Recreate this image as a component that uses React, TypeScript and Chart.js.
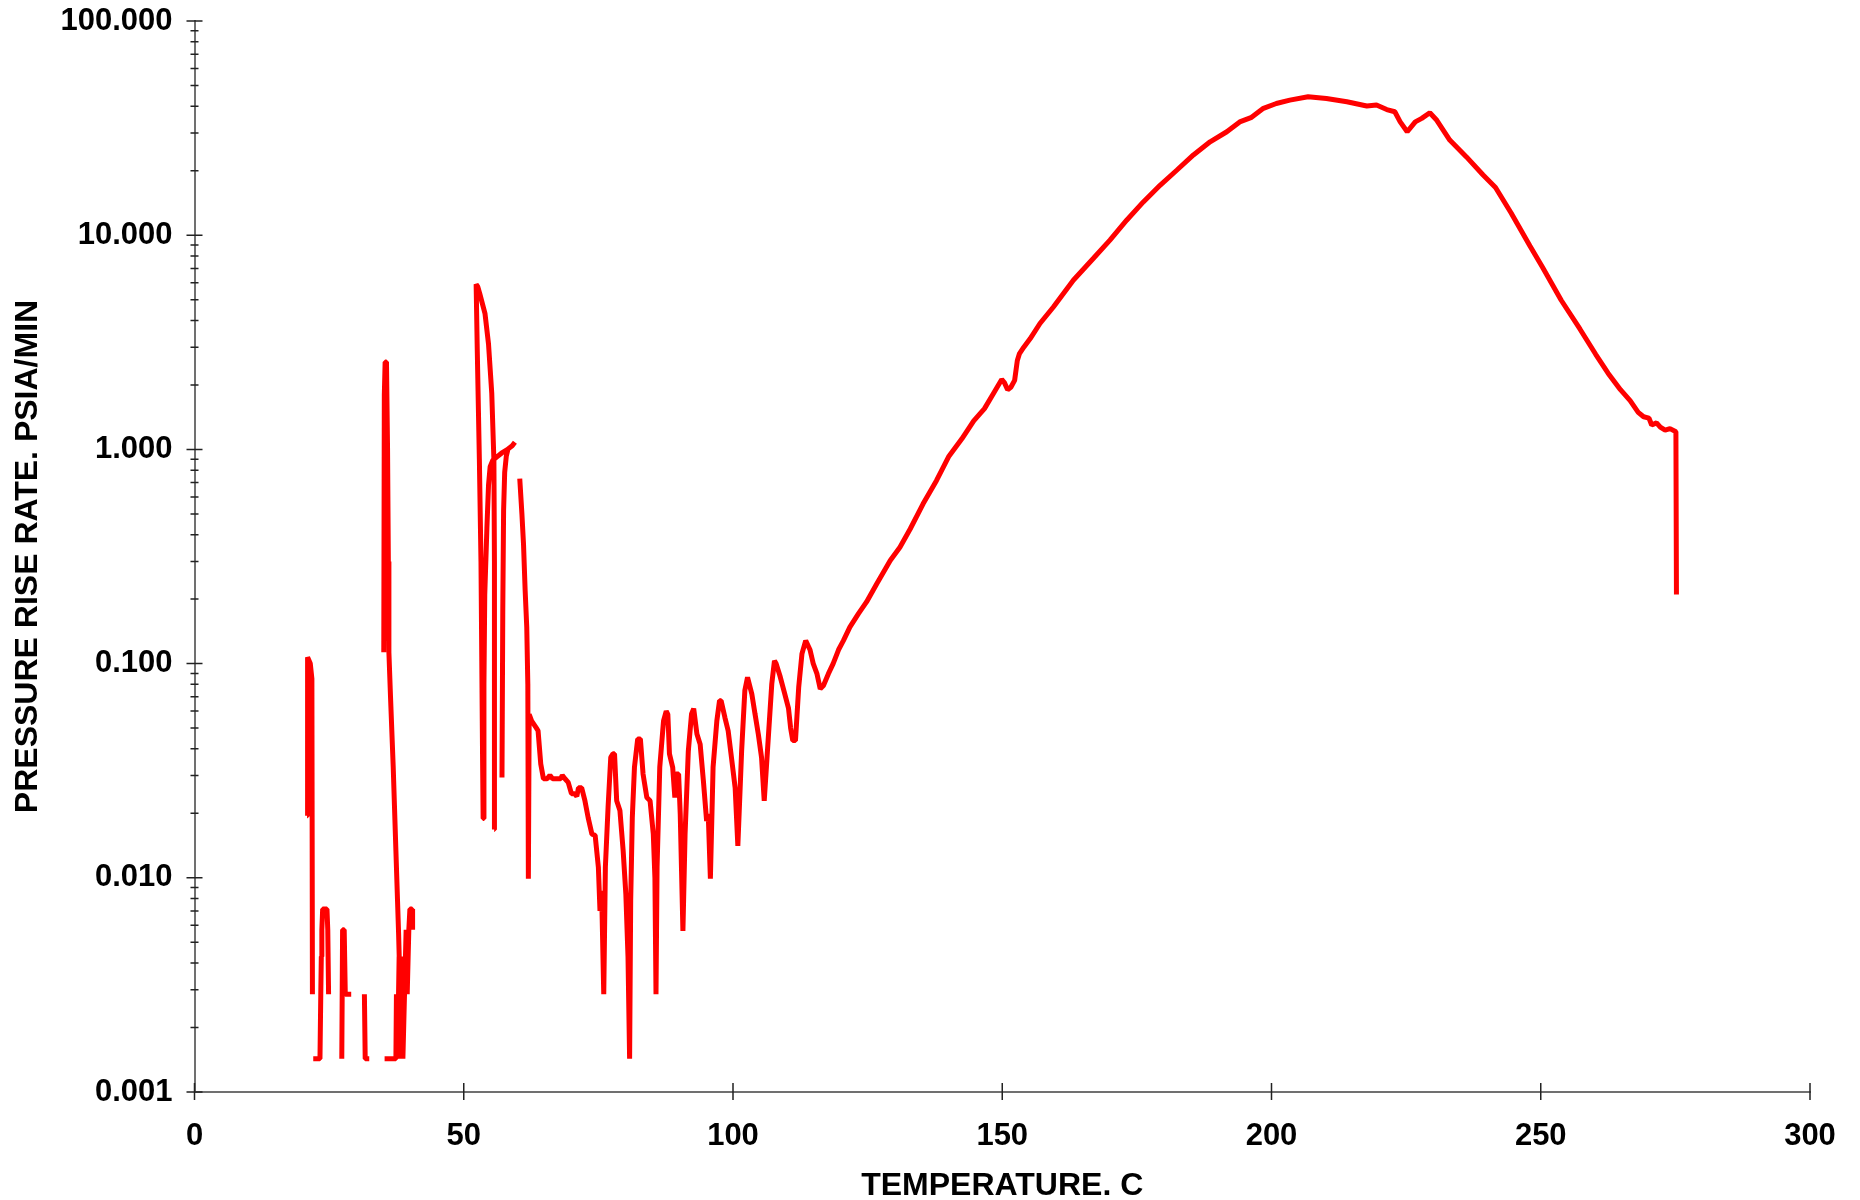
import React, { useEffect, useRef } from "react";
import { Chart, registerables } from "chart.js";

Chart.register(...registerables);

// Temperature (deg C) and pressure rise rate (psia/min); null = gap in the trace
const temperatureC: number[] = [
  20.9, 21.0, 21.5, 21.8, 21.9, 22.0,
  22.05, 23.3, 23.45, 23.55, 23.65, 23.8, 24.6, 24.75, 24.9, 25.0,
  27.35, 27.5, 27.8, 28.0, 29.1, 29.2,
  31.55, 31.7, 32.45, 32.5,
  35.15, 35.25, 35.4, 35.65, 35.85, 36.0, 36.1, 36.4, 36.9, 37.4, 37.9, 38.2, 38.3,
  35.3, 37.4, 37.5, 37.7, 38.0, 38.2, 38.5, 38.7, 39.0, 39.3, 39.5, 39.8, 40.0, 40.4, 40.5, 40.6,
  55.65, 55.7, 55.6, 55.2, 54.6, 53.95, 53.0, 52.6, 52.3, 52.5, 52.9, 53.2, 53.5, 53.6,
  53.75, 53.9, 54.3, 54.6, 54.9, 55.4, 56.1, 57.0, 58.0, 59.0, 59.5, 59.6,
  57.1, 57.25, 57.4, 57.6, 57.9, 58.2, 58.3,
  60.4, 60.8, 61.1, 61.4, 61.7, 61.9, 62.0, 62.15, 62.3, 62.6, 63.5, 63.8, 64.3, 64.8,
  65.5, 66.0, 66.5, 67.0, 68.0, 68.3, 68.8, 69.4, 70.0, 70.6, 71.0, 71.3, 71.9, 72.5,
  73.1, 73.8, 74.4, 75.0, 75.3, 75.6, 76.0, 76.3, 76.8, 77.3, 77.7, 78.0, 78.4, 79.0,
  79.6, 80.1, 80.5, 80.8, 81.0, 81.3, 81.7, 82.3, 82.8, 83.3, 84.0, 84.6, 85.2, 85.5,
  85.7, 85.9, 86.4, 87.1, 87.6, 87.9, 88.2, 88.8, 89.2, 89.4, 89.9, 90.2, 90.7, 91.1,
  91.7, 92.3, 92.7, 93.3, 93.9, 94.5, 95.1, 95.4, 95.8, 96.3, 97.0, 97.5, 97.8, 98.5,
  99.1, 99.8, 100.4, 100.9, 101.6, 102.2, 102.7, 103.5, 104.1, 104.7, 105.3, 105.8,
  106.6, 107.2, 107.7, 108.0, 108.7, 109.5, 110.3, 110.7, 111.1, 111.6, 112.2, 112.8,
  113.5, 114.3, 114.9, 115.6, 116.2, 116.8, 117.7, 118.6, 119.6, 120.5, 121.7, 123.3,
  124.8, 126.7, 129.2, 131.0, 132.9, 135.3, 137.8, 140.1, 142.5, 144.7, 146.7, 148.5,
  149.9, 150.4, 151.0, 151.6, 152.3, 152.8, 153.2, 154.0, 155.2, 157.0, 159.5, 163.2,
  166.9, 170.0, 173.1, 176.2, 179.3, 182.4, 185.5, 188.6, 191.7, 194.1, 196.3, 198.5,
  200.9, 203.4, 206.8, 210.2, 214.0, 217.7, 219.5, 221.4, 222.9, 223.9, 225.2, 226.7,
  227.9, 229.4, 230.7, 233.1, 236.2, 239.3, 241.6, 244.5, 248.0, 250.3, 253.8, 257.3,
  260.2, 262.5, 264.8, 266.6, 268.1, 269.1, 270.1, 270.6, 271.5, 272.2, 273.1, 274.0,
  275.1, 275.2,
];

const riseRate: (number | null)[] = [
  0.0195, 0.107, 0.1, 0.085, 0.00286, null,
  0.00143, 0.00143, 0.00286, 0.00429, 0.00572, 0.00715, 0.00715, 0.00572, 0.00286, null,
  0.00143, 0.00572, 0.00572, 0.00286, 0.00286, null,
  0.00286, 0.00143, 0.00143, null,
  0.113, 1.8, 2.56, 2.56, 1.0, 0.3, 0.113, 0.07, 0.033, 0.0134, 0.0055, 0.00286, null,
  0.00143, 0.00143, 0.00286, 0.00143, 0.00429, 0.00143, 0.00429, 0.00143, 0.00286, 0.00572, 0.00286, 0.00572, 0.00715, 0.00715, 0.00572, null,
  0.0168, 0.3, 0.89, 1.83, 3.1, 4.3, 5.3, 5.75, 5.9, 3.0, 0.9, 0.3, 0.035, 0.0189,
  0.08, 0.21, 0.43, 0.68, 0.83, 0.89, 0.92, 0.96, 0.995, 1.04, 1.08, null,
  0.0294, 0.18, 0.52, 0.78, 0.93, 1.0, null,
  0.73, 0.5, 0.36, 0.22, 0.148, 0.08, 0.0099, 0.058, 0.058, 0.054, 0.05, 0.0486, 0.034, 0.029,
  0.029, 0.0301, 0.029, 0.029, 0.029, 0.0301, 0.029, 0.0279, 0.0247, 0.0247, 0.024, 0.0263, 0.0263, 0.0229,
  0.0191, 0.016, 0.0158, 0.0112, 0.007, 0.0087, 0.00286, 0.0112, 0.0213, 0.0365, 0.0379, 0.0379, 0.0229, 0.0206,
  0.0134, 0.0084, 0.0043, 0.00143, 0.0078, 0.0191, 0.0328, 0.0445, 0.0445, 0.0305, 0.0237, 0.0229, 0.016, 0.01,
  0.00286, 0.0112, 0.0328, 0.054, 0.06, 0.058, 0.0379, 0.0328, 0.0237, 0.0305, 0.0305, 0.0199, 0.00565, 0.016,
  0.039, 0.0582, 0.0616, 0.0469, 0.042, 0.0284, 0.0184, 0.0199, 0.0099, 0.0328, 0.054, 0.0672, 0.067, 0.056,
  0.0486, 0.035, 0.0263, 0.0141, 0.039, 0.0748, 0.0863, 0.072, 0.058, 0.0469, 0.0365, 0.0229,
  0.0469, 0.0803, 0.103, 0.1, 0.088, 0.074, 0.062, 0.05, 0.0437, 0.0437, 0.0775, 0.111,
  0.128, 0.116, 0.1, 0.0895, 0.0762, 0.079, 0.0895, 0.1, 0.116, 0.128, 0.148, 0.171,
  0.194, 0.236, 0.303, 0.349, 0.425, 0.557, 0.716, 0.93, 1.12, 1.36, 1.55, 1.85,
  2.12, 2.05, 1.9, 1.95, 2.1, 2.6, 2.8, 3.0, 3.29, 3.87, 4.62, 6.16,
  7.78, 9.48, 11.75, 14.3, 17.1, 20.1, 23.7, 27.3, 30.4, 33.8, 35.5, 39.1,
  41.2, 42.7, 44.3, 43.5, 42.0, 40.1, 40.5, 38.6, 37.7, 33.8, 30.4, 33.8,
  35.1, 37.3, 34.4, 27.8, 23.2, 19.1, 16.7, 12.7, 8.9, 7.1, 4.97, 3.64,
  2.78, 2.27, 1.9, 1.69, 1.49, 1.42, 1.4, 1.3, 1.33, 1.27, 1.23, 1.25,
  1.21, 0.21,
];

const xTickValues = [0, 50, 100, 150, 200, 250, 300];
const yDecades = [0.001, 0.01, 0.1, 1, 10, 100];
const yTickLabels = ["0.001", "0.010", "0.100", "1.000", "10.000", "100.000"];
const xTitle = "TEMPERATURE. C";
const yTitle = "PRESSURE RISE RATE. PSIA/MIN";

const FONT = "'Liberation Sans', Arial, sans-serif";

const tickMarks = {
  id: "tickMarks",
  beforeDatasetsDraw(chart: any) {
    const { ctx, scales } = chart;
    const xs = scales.x;
    const ys = scales.y;
    const ax = xs.getPixelForValue(0);
    const ay = ys.getPixelForValue(0.001);
    ctx.save();
    ctx.strokeStyle = "#222";
    ctx.lineWidth = 1.5;
    ctx.beginPath();
    for (let d = 0; d < yDecades.length; d++) {
      const py = ys.getPixelForValue(yDecades[d]);
      ctx.moveTo(ax - 8, py);
      ctx.lineTo(ax + 8, py);
      if (d < yDecades.length - 1) {
        for (let m = 2; m <= 9; m++) {
          const pm = ys.getPixelForValue(yDecades[d] * m);
          ctx.moveTo(ax - 4, pm);
          ctx.lineTo(ax + 4, pm);
        }
      }
    }
    for (const v of xTickValues) {
      const px = xs.getPixelForValue(v);
      ctx.moveTo(px, ay - 9);
      ctx.lineTo(px, ay + 8);
    }
    ctx.stroke();
    ctx.restore();
  },
};

export default function App() {
  const ref = useRef<HTMLCanvasElement | null>(null);
  useEffect(() => {
    if (!ref.current) return;
    const points = temperatureC.map((t, i) => ({ x: t, y: riseRate[i] }));
    const chart = new Chart(ref.current, {
      type: "scatter",
      data: {
        datasets: [
          {
            data: points as any,
            showLine: true,
            spanGaps: false,
            borderColor: "#ff0000",
            backgroundColor: "#ff0000",
            borderWidth: 5,
            borderJoinStyle: "bevel",
            pointRadius: 0,
            tension: 0,
          },
        ],
      },
      options: {
        animation: false,
        responsive: false,
        devicePixelRatio: 1,
        layout: { autoPadding: false, padding: { left: 0, top: 21, right: 50, bottom: 0 } },
        plugins: { legend: { display: false }, tooltip: { enabled: false } },
        scales: {
          x: {
            type: "linear",
            min: 0,
            max: 300,
            grid: { display: false, drawTicks: false },
            border: { display: true, color: "#707070", width: 2 },
            afterBuildTicks: (s: any) => {
              s.ticks = xTickValues.map((v) => ({ value: v }));
            },
            afterFit: (s: any) => {
              s.height = 108;
              s.paddingLeft = 0;
              s.paddingRight = 0;
            },
            ticks: {
              autoSkip: false,
              maxRotation: 0,
              padding: 26,
              color: "#000",
              font: { family: FONT, size: 31, weight: "bold", lineHeight: 1.2 },
              callback: (v: any) => String(v),
            },
            title: {
              display: true,
              text: xTitle,
              color: "#000",
              font: { family: FONT, size: 32, weight: "bold", lineHeight: 1.2 },
              padding: { top: 0, bottom: -5 },
            },
          },
          y: {
            type: "logarithmic",
            min: 0.001,
            max: 100,
            grid: { display: false, drawTicks: false },
            border: { display: true, color: "#707070", width: 2 },
            afterBuildTicks: (s: any) => {
              s.ticks = yDecades.map((v) => ({ value: v }));
            },
            afterFit: (s: any) => {
              s.width = 194.5;
              s.paddingTop = 0;
              s.paddingBottom = 0;
            },
            ticks: {
              autoSkip: false,
              padding: 22,
              color: "#000",
              font: { family: FONT, size: 31, weight: "bold", lineHeight: 1.2 },
              callback: (v: any) => {
                const i = yDecades.findIndex((d) => Math.abs(d - v) / d < 1e-6);
                return i >= 0 ? yTickLabels[i] : "";
              },
            },
            title: {
              display: true,
              text: yTitle,
              color: "#000",
              font: { family: FONT, size: 32, weight: "bold", lineHeight: 1.2 },
              padding: { top: 9, bottom: 0 },
            },
          },
        },
      },
      plugins: [tickMarks],
    });
    return () => chart.destroy();
  }, []);
  return (
    <div>
      <canvas
        ref={ref}
        width={1860}
        height={1200}
        style={{ display: "block", position: "fixed", left: 0, top: 0, width: 1860, height: 1200 }}
      />
    </div>
  );
}
